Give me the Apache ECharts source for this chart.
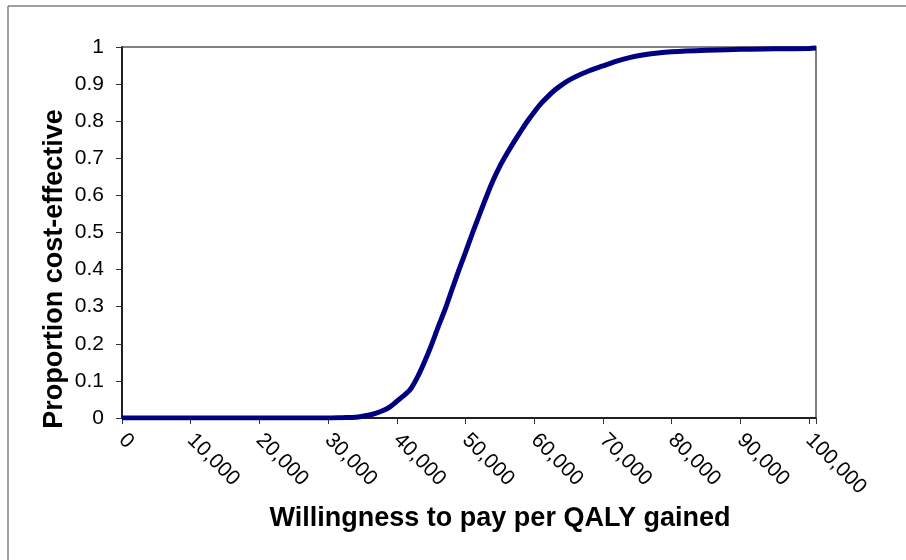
<!DOCTYPE html>
<html>
<head>
<meta charset="utf-8">
<script src="https://cdn.jsdelivr.net/npm/echarts@6/dist/echarts.min.js"></script>
<style>
  html, body { margin: 0; padding: 0; background: #fff; }
  #chart { width: 906px; height: 560px; }
</style>
</head>
<body>
<div id="chart"></div>
<script>
// willingness to pay (x) and proportion cost-effective (y)
var wtp = [0, 5000, 10000, 15000, 20000, 25000, 30000, 32000, 34000, 36000, 37000, 38000,
  39000, 40000, 41000, 42000, 43000, 44000, 45000, 46000, 47000, 48000, 49000, 50000,
  51000, 52000, 53000, 54000, 55000, 56000, 57000, 58000, 59000, 60000, 61000, 62000, 63000,
  64000, 65000, 66000, 68000, 70000, 72000, 74000, 76000, 78000, 80000, 85000, 90000, 95000,
  100000, 101000];
var proportion = [0, 0, 0, 0, 0, 0, 0, 0.001, 0.002, 0.008, 0.013, 0.02,
  0.03, 0.045, 0.06, 0.078, 0.11, 0.15, 0.195, 0.245, 0.292, 0.345, 0.397, 0.447,
  0.498, 0.547, 0.595, 0.64, 0.679, 0.712, 0.743, 0.772, 0.8, 0.825, 0.848, 0.867, 0.884,
  0.898, 0.91, 0.92, 0.936, 0.949, 0.962, 0.972, 0.979, 0.984, 0.987, 0.991, 0.994, 0.995,
  0.996, 0.997];
var xTitle = 'Willingness to pay per QALY gained';
var yTitle = 'Proportion cost-effective';

var points = wtp.map(function (v, i) { return [v, proportion[i]]; });
var font = 'Liberation Sans';

var chart = echarts.init(document.getElementById('chart'));
chart.setOption({
  animation: false,
  backgroundColor: '#fff',
  grid: {
    left: 122, top: 47, right: 90, bottom: 142,
    show: true, borderColor: '#808080', borderWidth: 2, backgroundColor: '#fff'
  },
  xAxis: {
    type: 'value',
    min: 0, max: 101000, interval: 10000,
    splitLine: { show: false },
    axisLine: { show: true, onZero: false, lineStyle: { color: '#000', width: 1.5 } },
    axisTick: { show: true, length: 6, lineStyle: { color: '#333' } },
    axisLabel: {
      rotate: -45, margin: 19, fontSize: 21, color: '#000', fontFamily: font,
      formatter: function (v) { return v % 10000 === 0 ? echarts.format.addCommas(v) : ''; }
    }
  },
  yAxis: {
    type: 'value',
    min: 0, max: 1, interval: 0.1,
    splitLine: { show: false },
    axisLine: { show: true, lineStyle: { color: '#000', width: 1.5 } },
    axisTick: { show: true, length: 6, lineStyle: { color: '#333' } },
    axisLabel: { margin: 18, fontSize: 21, color: '#000', fontFamily: font }
  },
  series: [{
    type: 'line',
    data: points,
    smooth: 0.3,
    showSymbol: false,
    lineStyle: { color: '#000080', width: 5 }
  }],
  graphic: [
    { type: 'line', shape: { x1: 8, y1: 6, x2: 906, y2: 6 }, style: { stroke: '#808080', lineWidth: 1.5 } },
    { type: 'line', shape: { x1: 8, y1: 6, x2: 8, y2: 560 }, style: { stroke: '#808080', lineWidth: 1.5 } },
    {
      type: 'text', x: 500, y: 519,
      style: { text: xTitle, font: 'bold 27px ' + font, fill: '#000', textAlign: 'center', textVerticalAlign: 'middle' }
    },
    {
      type: 'text', x: 55, y: 269, rotation: Math.PI / 2,
      style: { text: yTitle, font: 'bold 27px ' + font, fill: '#000', textAlign: 'center', textVerticalAlign: 'middle' }
    }
  ]
});
</script>
</body>
</html>
